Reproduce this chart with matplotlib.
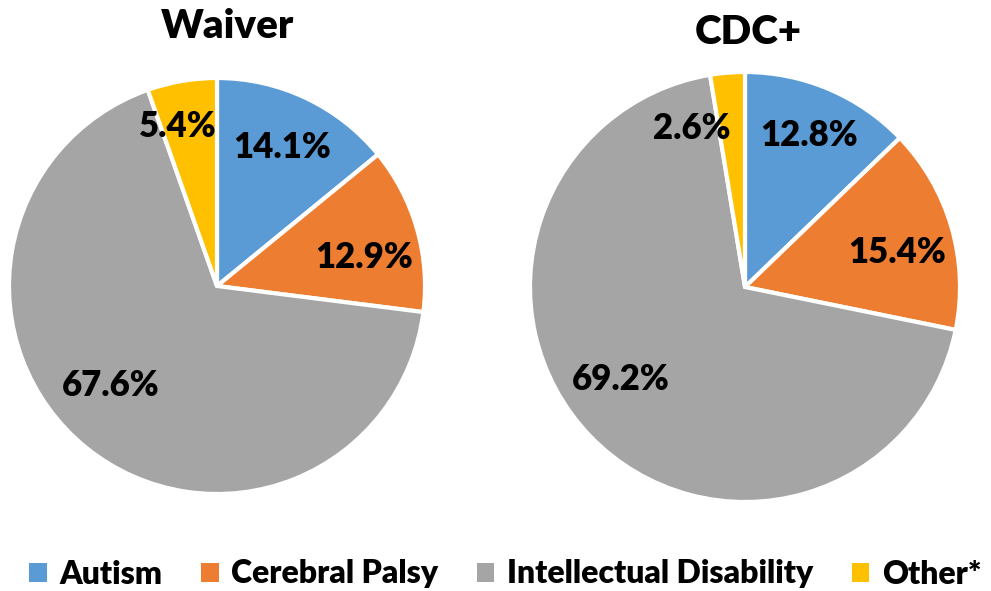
import numpy as np
import matplotlib.pyplot as plt
from matplotlib.patches import Patch

plt.rcParams['font.family'] = ['Lato', 'DejaVu Sans']

categories = ['Autism', 'Cerebral Palsy', 'Intellectual Disability', 'Other*']
waiver = [14.1, 12.9, 67.6, 5.4]
cdc = [12.8, 15.4, 69.2, 2.6]
colors = ['#5b9bd5', '#ed7d31', '#a5a5a5', '#ffc000']

# label positions (radius fraction, angle shift in degrees)
waiver_lbl = [(0.735, 0), (0.72, -5), (0.70, -8), (0.79, 4)]
cdc_lbl = [(0.765, 0), (0.725, -3.5), (0.72, -7), (0.78, 14)]


def draw_pie(ax, vals, lbl):
    wedges, texts, autotexts = ax.pie(vals, colors=colors, startangle=90, counterclock=False,
                                      autopct='%.1f%%', pctdistance=0.72,
                                      wedgeprops=dict(edgecolor='white', linewidth=3))
    for w, t, (d, da) in zip(wedges, autotexts, lbl):
        ang = np.deg2rad((w.theta1 + w.theta2) / 2 + da)
        t.set_position((d * np.cos(ang), d * np.sin(ang)))
        t.set_fontsize(25)
        t.set_fontweight('heavy')
        t.set_color('black')
    ax.set_xlim(-1, 1)
    ax.set_ylim(-1, 1)
    ax.set_aspect('equal')


fig = plt.figure(figsize=(9.91, 5.91), dpi=100)
ax1 = fig.add_axes([9 / 991, 97 / 591, 416 / 991, 416 / 591])
ax2 = fig.add_axes([530 / 991, 89 / 591, 430 / 991, 430 / 591])
draw_pie(ax1, waiver, waiver_lbl)
draw_pie(ax2, cdc, cdc_lbl)

fig.text(228 / 991, 1 - 27 / 591, 'Waiver', ha='center', va='center', fontsize=29, fontweight='heavy')
fig.text(748 / 991, 1 - 32 / 591, 'CDC+', ha='center', va='center', fontsize=29, fontweight='heavy')

handles = [Patch(facecolor=c, edgecolor='none') for c in colors]
fig.legend(handles, categories, loc='center', bbox_to_anchor=(0.51, 1 - 574 / 591), ncol=4,
           frameon=False, prop=dict(size=23, weight='heavy'), handlelength=0.55, handleheight=0.55,
           handletextpad=0.4, columnspacing=1.2)

fig.savefig('out.png', dpi=100)
